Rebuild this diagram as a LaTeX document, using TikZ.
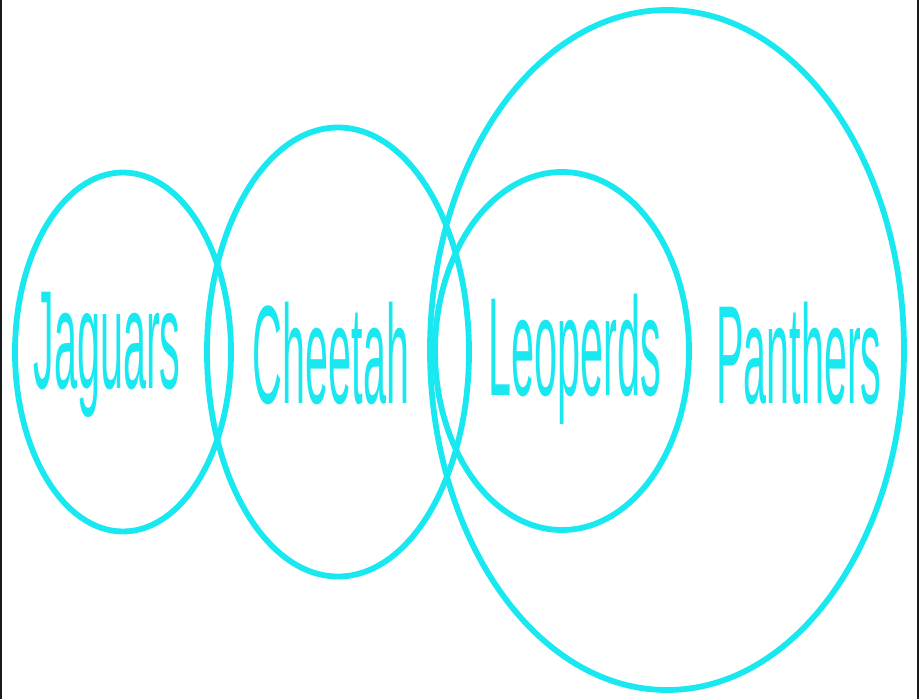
\documentclass[tikz,border=0pt]{standalone}
\usepackage{fontspec}
\setmainfont{Liberation Sans}
\usepackage{xcolor}
\usepackage{tikz}
\usetikzlibrary{shapes.geometric}
\definecolor{ccian}{HTML}{1AE8F0}
\definecolor{cnegro}{HTML}{1A1A1A}
\tikzset{
  aro/.style={ellipse, draw=ccian, line width=5.8pt, inner sep=0pt},
  nombre/.style={font=\fontsize{140}{140}\selectfont, text=ccian, inner sep=0pt,
    anchor=base, xscale=0.295, transform shape},
  borde/.style={draw=cnegro, line width=2pt},
}

\begin{document}
\begin{tikzpicture}[x=1pt, y=-1pt]
  \useasboundingbox (0,0) rectangle (919,699);
  % bordes laterales
  \draw[borde] (1,0) -- (1,699);
  \draw[borde] (918,0) -- (918,699);
  % aros
  \node[aro, minimum width=216pt, minimum height=359pt] (jaguar) at (123,352) {};
  \node[aro, minimum width=262pt, minimum height=449pt] (chita) at (338,352) {};
  \node[aro, minimum width=474pt, minimum height=680pt] (pantera) at (667,350) {};
  \node[aro, minimum width=254pt, minimum height=358pt] (leopardo) at (562,351) {};
  % nombres
  \node[nombre] (njaguar) at (107,388) {Jaguars};
  \node[nombre] (nchita) at (331,403) {Cheetah};
  \node[nombre] (nleopardo) at (575,395) {Leoperds};
  \node[nombre] (npantera) at (799,403) {Panthers};
\end{tikzpicture}
\end{document}
